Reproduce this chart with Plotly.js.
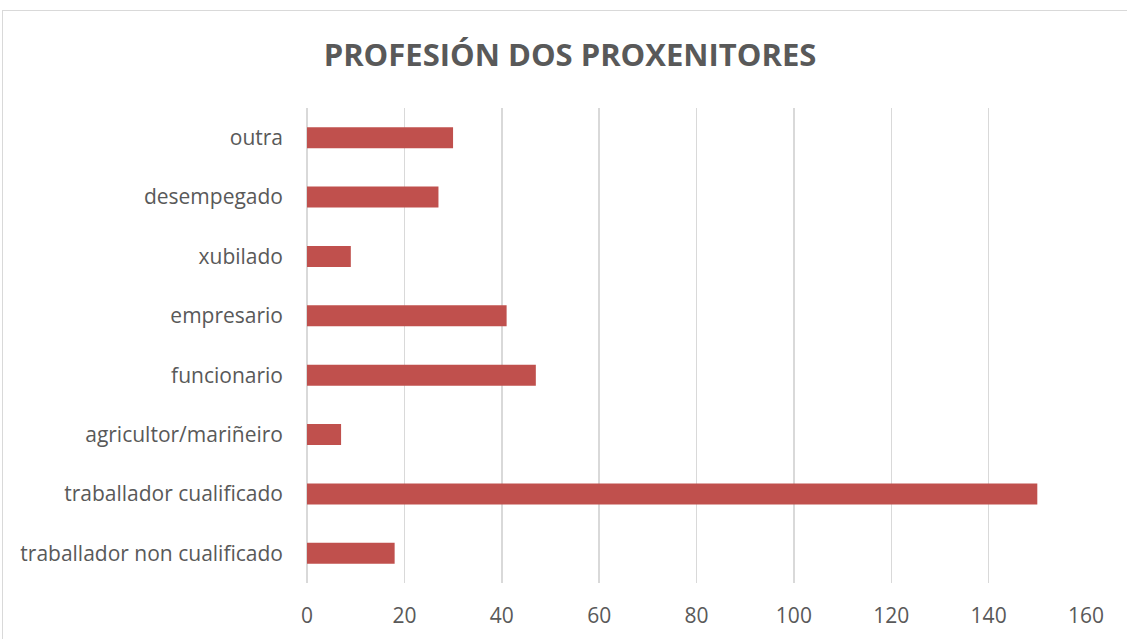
<!DOCTYPE html>
<html>
<head>
<meta charset="utf-8">
<script src="https://cdn.plot.ly/plotly-3.0.1.min.js"></script>
<style>
html,body{margin:0;padding:0;background:#fff;overflow:hidden;}
#chart{width:1127px;height:639px;}
#frame{position:absolute;left:2px;top:10px;width:1200px;height:800px;border:1px solid #d9d9d9;pointer-events:none;box-sizing:border-box;}
</style>
</head>
<body>
<div id="chart"></div>
<div id="frame"></div>
<script>
const categories = [
  "traballador non cualificado",
  "traballador cualificado",
  "agricultor/mariñeiro",
  "funcionario",
  "empresario",
  "xubilado",
  "desempegado",
  "outra"
];
const values = [18, 150, 7, 47, 41, 9, 27, 30];
const tickValues = [0, 20, 40, 60, 80, 100, 120, 140, 160];

const trace = {
  type: "bar",
  orientation: "h",
  y: categories,
  x: values,
  marker: {color: "#c0504d"},
  hoverinfo: "x+y"
};

const layout = {
  width: 1127,
  height: 639,
  margin: {l: 307, r: 41, t: 108, b: 56},
  paper_bgcolor: "rgba(0,0,0,0)",
  plot_bgcolor: "#ffffff",
  bargap: 0.646,
  showlegend: false,
  font: {family: "Open Sans, sans-serif", color: "#595959", size: 21},
  title: {
    text: "<b>PROFESIÓN DOS PROXENITORES</b>",
    font: {family: "Open Sans, sans-serif", size: 31, color: "#595959"},
    x: 570/1127, xanchor: "center",
    y: 1 - 55/639, yanchor: "middle", yref: "container"
  },
  xaxis: {
    range: [0, 160],
    tickvals: tickValues,
    ticktext: tickValues.map(String),
    showgrid: true,
    gridcolor: "#d9d9d9",
    gridwidth: 1.5,
    zeroline: true,
    zerolinecolor: "#d9d9d9",
    zerolinewidth: 1.5,
    showline: false,
    ticks: "",
    ticklabelstandoff: 18,
    tickfont: {size: 21, color: "#595959"},
    fixedrange: true
  },
  yaxis: {
    type: "category",
    categoryorder: "array",
    categoryarray: categories,
    showgrid: false,
    zeroline: false,
    showline: false,
    ticks: "",
    ticklabelstandoff: 23,
    tickfont: {size: 21, color: "#595959"},
    fixedrange: true
  }
};

Plotly.newPlot("chart", [trace], layout, {displayModeBar: false, staticPlot: true});
</script>
</body>
</html>
